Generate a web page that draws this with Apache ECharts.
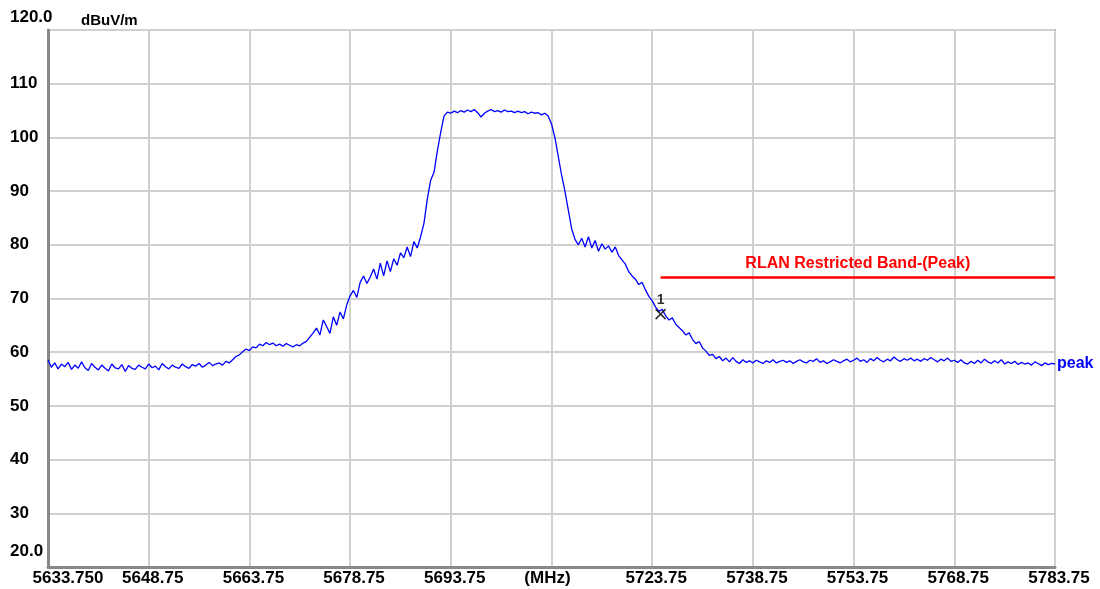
<!DOCTYPE html>
<html>
<head>
<meta charset="utf-8">
<script src="https://cdn.jsdelivr.net/npm/echarts@6/dist/echarts.min.js"></script>
<style>
html,body{margin:0;padding:0;background:#fff;}
#chart{width:1100px;height:589px;}
</style>
</head>
<body>
<div id="chart"></div>
<script>
// ---- data ----
var START_FREQ = 5633.75;      // MHz
var STOP_FREQ = 5783.75;       // MHz
var SWEEP_STEP = 0.5;          // MHz between sweep points
var X_TICK_LABELS = ['5633.750','5648.75','5663.75','5678.75','5693.75','(MHz)','5723.75','5738.75','5753.75','5768.75','5783.75'];
var Y_TICK_LABELS = ['20.0','30','40','50','60','70','80','90','100','110','120.0'];
var Y_UNIT = 'dBuV/m';

// measured peak trace (dBuV/m), one value per sweep point
var peakTrace = [
58.6,57.2,58.0,56.9,57.8,57.3,58.1,56.8,57.6,57.0,58.2,57.1,56.6,57.9,57.2,56.7,57.6,57.0,56.5,57.8,
57.1,56.9,57.7,56.4,57.5,57.0,56.8,57.6,57.2,56.9,57.8,57.1,57.4,56.7,57.9,57.3,56.9,57.6,57.2,57.0,
57.8,57.3,57.0,57.7,57.4,57.9,57.2,57.6,58.1,57.5,57.8,58.0,57.6,58.3,58.0,58.6,59.2,59.5,60.1,60.6,
60.3,61.0,60.8,61.5,61.2,61.8,61.4,61.7,61.2,61.5,61.1,61.6,61.3,61.0,61.4,61.2,61.7,62.0,62.8,63.6,
64.5,63.2,66.0,64.8,63.5,66.6,65.0,67.5,66.2,68.8,70.5,71.5,70.2,73.0,74.2,72.8,74.0,75.5,73.6,76.6,
74.2,77.0,75.0,77.4,76.2,78.5,77.6,79.6,77.8,80.6,79.4,81.5,84.0,88.5,92.0,93.5,97.5,101.0,104.0,104.7,
104.5,104.9,104.6,105.0,104.7,105.1,104.8,105.2,104.6,103.8,104.5,104.9,105.2,104.8,105.0,104.7,105.1,104.8,104.9,104.6,
104.9,104.6,104.8,104.4,104.7,104.5,104.6,104.2,104.5,104.0,102.5,100.0,96.5,93.0,90.0,86.5,83.0,81.0,80.0,81.2,
79.6,81.5,79.4,80.8,78.8,80.2,79.2,79.8,78.6,79.6,78.0,77.2,76.4,75.0,74.2,73.6,72.6,73.0,71.6,70.4,
69.6,68.4,67.6,68.0,66.8,66.0,66.4,65.2,64.6,64.0,63.2,63.6,62.4,61.6,62.0,60.8,60.2,59.4,59.6,58.8,
59.2,58.4,58.9,58.2,59.0,58.3,57.9,58.6,58.1,58.4,58.0,58.5,58.2,57.9,58.4,58.1,58.6,58.0,58.3,58.5,
58.1,58.4,57.9,58.3,58.6,58.2,58.0,58.5,58.3,58.8,58.1,58.4,57.9,58.2,58.6,58.3,58.0,58.4,58.7,58.2,
58.5,58.9,58.3,58.6,58.1,58.8,58.4,59.0,58.5,58.2,58.7,58.4,59.1,58.6,58.3,58.8,58.5,58.9,58.4,58.7,
58.3,58.8,58.5,59.0,58.6,58.2,58.7,58.4,58.9,58.3,58.5,58.1,58.6,58.0,57.8,58.3,57.9,58.5,58.0,58.7,
58.2,57.9,58.4,58.0,58.6,57.8,58.2,57.9,58.3,57.7,58.1,57.8,58.0,57.6,58.2,57.9,57.5,58.0,57.7,57.9,57.8
];

// limit line
var LIMIT_NAME = 'RLAN Restricted Band-(Peak)';
var LIMIT_START = 5725.0;
var LIMIT_END = 5783.75;
var LIMIT_LEVEL = 74.0;

// marker 1
var MARKER_LABEL = '1';
var MARKER_FREQ = 5725.0;
var MARKER_LEVEL = 67.1;

var TRACE_NAME = 'peak';

// ---- build ----
var traceData = peakTrace.map(function (v, i) { return [i * SWEEP_STEP, v]; }); // x = offset from START_FREQ
var span = STOP_FREQ - START_FREQ;
var xInterval = span / (X_TICK_LABELS.length - 1);
var yMin = parseFloat(Y_TICK_LABELS[0]);
var yMax = parseFloat(Y_TICK_LABELS[Y_TICK_LABELS.length - 1]);
var yInterval = (yMax - yMin) / (Y_TICK_LABELS.length - 1);

var FONT = 'Liberation Sans, Arial, sans-serif';
var chart = echarts.init(document.getElementById('chart'));
chart.setOption({
  animation: false,
  backgroundColor: '#ffffff',
  textStyle: { fontFamily: FONT },
  title: {
    text: Y_UNIT, left: 76, top: 8,
    textStyle: { fontFamily: FONT, fontSize: 15, fontWeight: 'bold', color: '#000' }
  },
  grid: {
    left: 48, right: 45, top: 30, bottom: 22,
    show: true, borderColor: '#9a9a9a', borderWidth: 2, backgroundColor: '#fff'
  },
  xAxis: {
    type: 'value', min: 0, max: span, interval: xInterval,
    axisLine: { show: true, onZero: false, lineStyle: { color: '#888', width: 3 } },
    axisTick: { show: false },
    splitLine: { show: true, lineStyle: { color: '#d0d0d0', width: 2 } },
    axisLabel: {
      margin: 3, showMinLabel: true, showMaxLabel: true,
      fontFamily: FONT, fontSize: 17, fontWeight: 'bold', color: '#000',
      formatter: function (v) {
        var idx = Math.round(v / xInterval);
        var t = X_TICK_LABELS[idx];
        if (idx === 0) return '{f|' + t + '}';
        if (t === '(MHz)') return '{u|' + t + '}';
        return '{n|' + t + '}';
      },
      rich: {
        f: { fontFamily: FONT, fontSize: 17, fontWeight: 'bold', color: '#000', padding: [0, 0, 0, 40] },
        n: { fontFamily: FONT, fontSize: 17, fontWeight: 'bold', color: '#000', padding: [0, 0, 0, 8] },
        u: { fontFamily: FONT, fontSize: 17, fontWeight: 'bold', color: '#000', padding: [0, 8, 0, 0] }
      }
    }
  },
  yAxis: {
    type: 'value', min: yMin, max: yMax, interval: yInterval,
    axisLine: { show: true, lineStyle: { color: '#888', width: 3 } },
    axisTick: { show: false },
    splitLine: { show: true, lineStyle: { color: '#d0d0d0', width: 2 } },
    axisLabel: {
      margin: 38, align: 'left', showMinLabel: true, showMaxLabel: true,
      fontFamily: FONT, fontSize: 17, fontWeight: 'bold', color: '#000',
      formatter: function (v) {
        var idx = Math.round((v - yMin) / yInterval);
        var t = Y_TICK_LABELS[idx];
        if (idx === Y_TICK_LABELS.length - 1) return '{hi|' + t + '}';
        if (idx === 0) return '{lo|' + t + '}';
        return '{n|' + t + '}';
      },
      rich: {
        hi: { fontFamily: FONT, fontSize: 17, fontWeight: 'bold', color: '#000', padding: [0, 0, 26, 0] },
        lo: { fontFamily: FONT, fontSize: 17, fontWeight: 'bold', color: '#000', padding: [0, 0, 32, 0] },
        n: { fontFamily: FONT, fontSize: 17, fontWeight: 'bold', color: '#000' }
      }
    }
  },
  series: [
    {
      name: TRACE_NAME, type: 'line', data: traceData, symbol: 'none',
      lineStyle: { color: '#0000ff', width: 1.3 },
      itemStyle: { color: '#0000ff' },
      endLabel: {
        show: true, formatter: TRACE_NAME, distance: 2,
        fontFamily: FONT, fontSize: 16, fontWeight: 'bold', color: '#0000ff'
      },
      z: 3
    },
    {
      name: LIMIT_NAME, type: 'line', data: [], symbol: 'none',
      markLine: {
        silent: true, symbol: 'none',
        lineStyle: { color: '#ff0000', width: 2.5, type: 'solid' },
        label: {
          show: true, position: 'middle', formatter: LIMIT_NAME, distance: 5,
          fontFamily: FONT, fontSize: 16, fontWeight: 'bold', color: '#ff0000'
        },
        data: [[
          { coord: [LIMIT_START - START_FREQ, LIMIT_LEVEL] },
          { coord: [LIMIT_END - START_FREQ, LIMIT_LEVEL] }
        ]]
      },
      z: 2
    },
    {
      name: 'marker', type: 'scatter',
      data: [[MARKER_FREQ - START_FREQ, MARKER_LEVEL]],
      symbol: 'path://M0,0L10,10M10,0L0,10', symbolSize: 10,
      itemStyle: { color: 'rgba(0,0,0,0)', borderColor: '#000', borderWidth: 1.6 },
      label: {
        show: true, position: 'top', distance: 1, formatter: MARKER_LABEL,
        fontFamily: FONT, fontSize: 14, fontWeight: 'bold', color: '#000'
      },
      z: 4
    }
  ]
});
</script>
</body>
</html>
